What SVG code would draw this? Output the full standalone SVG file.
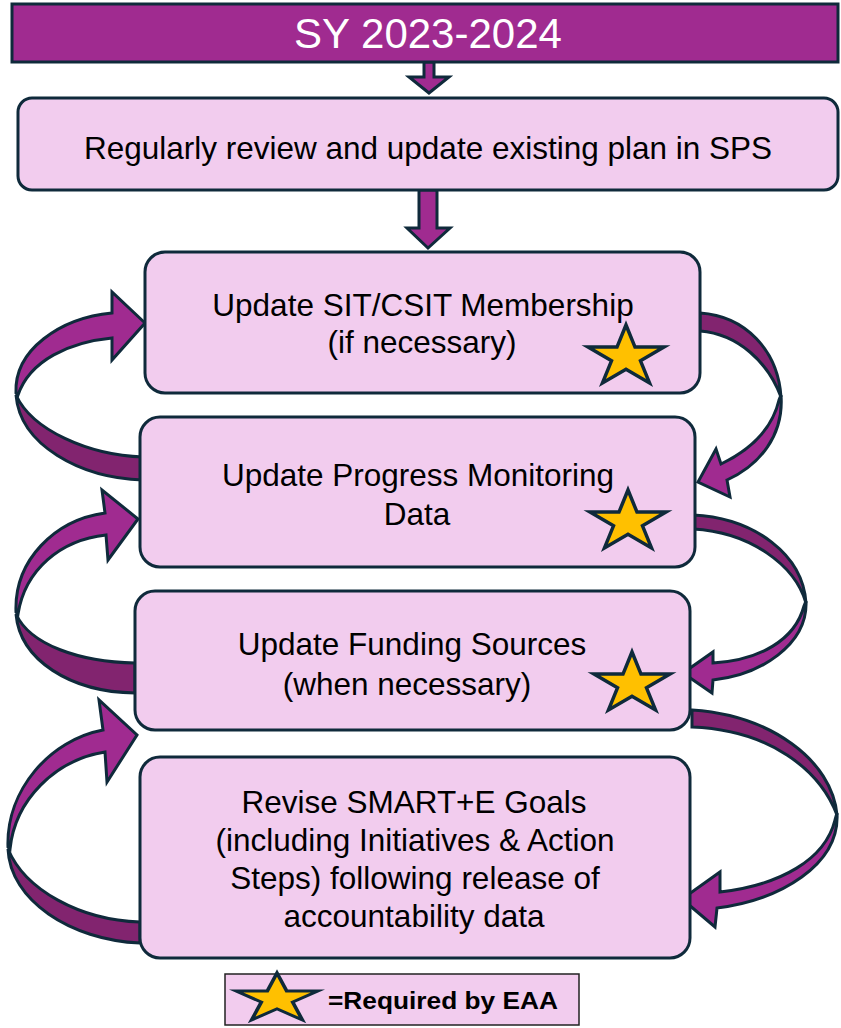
<svg xmlns="http://www.w3.org/2000/svg" width="841" height="1028" viewBox="0 0 841 1028">
<style>
.box{fill:#F2CCEE;stroke:#0F2A3B;stroke-width:3}
.hdr{fill:#A02B90;stroke:#0F2A3B;stroke-width:3}
.t{font-family:"Liberation Sans",Arial,sans-serif;font-size:31.5px;fill:#000;text-anchor:middle}
.lite{fill:#A02B90;stroke:#0F2A3B;stroke-width:3;stroke-linejoin:miter}
.dark{fill:#82246F;stroke:#0F2A3B;stroke-width:3;stroke-linejoin:miter}
.star{fill:#FFC000;stroke:#0F2A3B;stroke-width:3.5;stroke-linejoin:miter}
</style>
<defs>
<polygon id="star" points="0,-32 9,-9.9 38,-9.9 14.5,3.8 23.5,25.9 0,12.2 -23.5,25.9 -14.5,3.8 -38,-9.9 -9,-9.9"/>
</defs>
<g id="connectors">
<path class="lite" d="M424,62 L434,62 L434,77 L449,77 L429,93 L409,77 L424,77 Z"/>
<path class="lite" d="M419,190 L437,190 L437,228 L450,228 L428,248 L407,228 L419,228 Z"/>
<path class="dark" d="M143,480 C80,478 20,445 16,395 C32,430 88,455 143,457 Z"/>
<path class="lite" d="M16,393 C14,350 60,318 112,313 L112,292 L145,323 L112,360 L112,338 C70,342 30,360 18,395 Z"/>
<path class="dark" d="M135,693 C70,692 20,660 16,614 C30,645 80,662 135,663 Z"/>
<path class="lite" d="M16,612 C14,560 55,520 105,513 L102,490 L138,519 L108,560 L106,535 C60,540 25,570 18,614 Z"/>
<path class="dark" d="M140,943 C70,940 10,900 8,849 C25,890 80,920 140,922 Z"/>
<path class="lite" d="M8,847 C6,790 50,740 103,730 L99,700 L137,735 L107,782 L105,752 C55,760 15,800 10,849 Z"/>
<path class="dark" d="M700,313 C745,316 778,350 781,397 C768,362 738,334 700,331 Z"/>
<path class="lite" d="M781,395 C784,435 760,465 727,480 L730,497 L698,482 L716,449 L721,464 C750,450 772,430 779,400 Z"/>
<path class="dark" d="M693,515 C755,518 803,555 806,603 C795,565 750,532 693,529 Z"/>
<path class="lite" d="M806,601 C808,645 760,675 713,680 L712,693 L683,673 L713,652 L713,663 C760,660 795,640 804,606 Z"/>
<path class="dark" d="M692,710 C770,715 832,760 837,815 C820,770 770,730 692,727 Z"/>
<path class="lite" d="M837,813 C840,865 780,900 717,908 L715,927 L682,899 L720,872 L720,892 C780,885 825,860 835,820 Z"/>
</g>
<g id="header">
<rect class="hdr" x="12" y="4" width="826" height="58"/>
<text x="428" y="48" style="font-family:'Liberation Sans',Arial,sans-serif;font-size:42px;fill:#fff;text-anchor:middle">SY 2023-2024</text>
</g>
<g id="review">
<rect class="box" x="18" y="98" width="820" height="92" rx="14"/>
<text class="t" x="428" y="159">Regularly review and update existing plan in SPS</text>
</g>
<g id="membership">
<rect class="box" x="145" y="252" width="555" height="141" rx="20"/>
<text class="t" x="423" y="316">Update SIT/CSIT Membership</text>
<text class="t" x="422" y="353">(if necessary)</text>
<use href="#star" class="star" x="626" y="357"/>
</g>
<g id="progress">
<rect class="box" x="140" y="417" width="555" height="150" rx="20"/>
<text class="t" x="418" y="486">Update Progress Monitoring</text>
<text class="t" x="417" y="525">Data</text>
<use href="#star" class="star" x="628" y="522"/>
</g>
<g id="funding">
<rect class="box" x="135" y="591" width="555" height="139" rx="20"/>
<text class="t" x="412" y="655">Update Funding Sources</text>
<text class="t" x="407" y="695">(when necessary)</text>
<use href="#star" class="star" x="632" y="684"/>
</g>
<g id="goals">
<rect class="box" x="140" y="757" width="550" height="201" rx="20"/>
<text class="t" x="414" y="813">Revise SMART+E Goals</text>
<text class="t" x="415" y="851">(including Initiatives &amp; Action</text>
<text class="t" x="415" y="889">Steps) following release of</text>
<text class="t" x="414" y="927">accountability data</text>
</g>
<g id="legend">
<rect x="225" y="974" width="354" height="51" fill="#F2CCEE" stroke="#222" stroke-width="1.5"/>
<use href="#star" class="star" transform="translate(277,999) scale(1.08,0.81)"/>
<text x="328" y="1009" textLength="230" lengthAdjust="spacingAndGlyphs" style="font-family:'Liberation Sans',Arial,sans-serif;font-size:24px;font-weight:bold;fill:#000">=Required by EAA</text>
</g>
</svg>
